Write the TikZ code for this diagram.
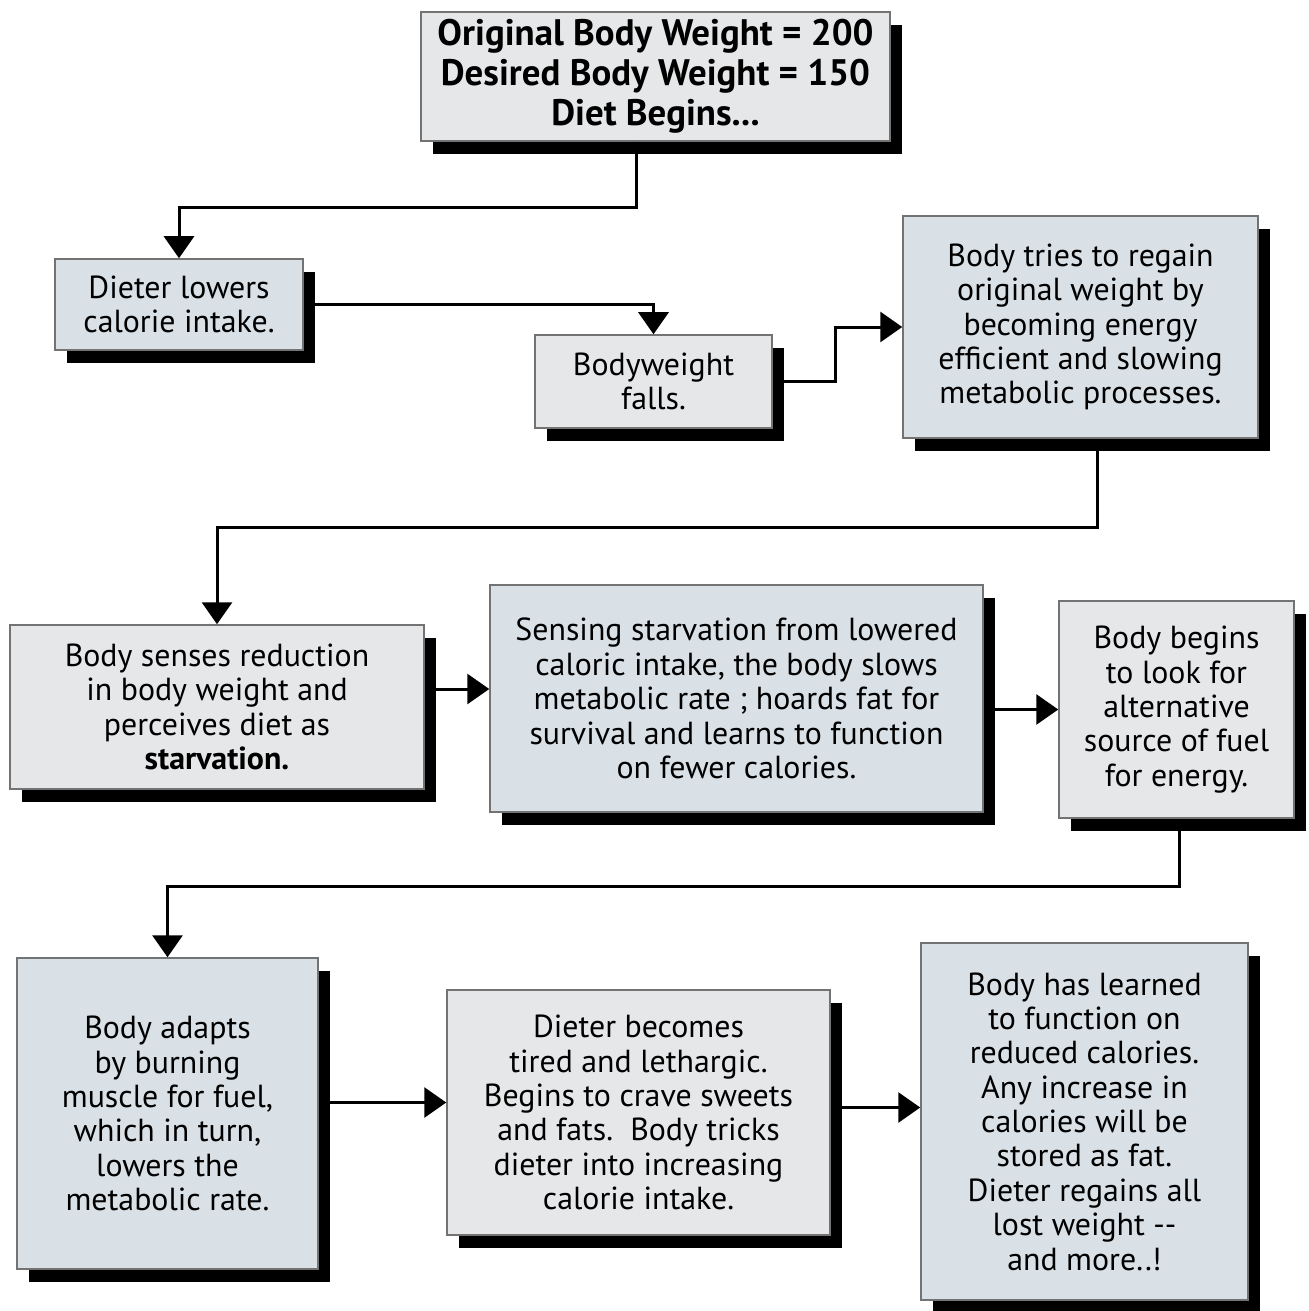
\documentclass[tikz,border=0pt]{standalone}
\usepackage{fontspec}
\setmainfont{PT Sans}
\usepackage{tikz}
\usetikzlibrary{arrows.meta,calc,shadows}
\definecolor{boxgray}{HTML}{E6E7E8}
\definecolor{boxblue}{HTML}{D9E1E7}

\begin{document}
\begin{tikzpicture}[x=1bp,y=-1bp,
  box/.style={draw=black!55,line width=1.5bp,align=center,inner sep=0pt,
    font=\fontsize{32}{34.5}\selectfont,
    drop shadow={shadow xshift=12bp,shadow yshift=-13bp,fill=black,opacity=1}},
  flow/.style={line width=3bp,-{Triangle[width=30bp,length=22bp]}}]
\useasboundingbox (0,0) rectangle (1309,1311);

\node[box,fill=boxgray,minimum width=469bp,minimum height=129bp,
  font=\fontsize{37}{40}\selectfont\bfseries] (start) at (655.5,76.5)
  {Original Body Weight = 200\\Desired Body Weight = 150\\Diet Begins...};
\node[box,fill=boxblue,minimum width=248bp,minimum height=91bp] (lower) at (179,304.5)
  {Dieter lowers\\calorie intake.};
\node[box,fill=boxgray,minimum width=237bp,minimum height=93bp] (falls) at (653.5,381.5)
  {Bodyweight\\falls.};
\node[box,fill=boxblue,minimum width=355bp,minimum height=222bp] (regain) at (1080.5,327)
  {Body tries to regain\\original weight by\\becoming energy\\efficient and slowing\\metabolic processes.};
\node[box,fill=boxgray,minimum width=414bp,minimum height=164bp] (senses) at (217,707)
  {Body senses reduction\\in body weight and\\perceives diet as\\\textbf{starvation.}};
\node[box,fill=boxblue,minimum width=493bp,minimum height=227bp] (hoard) at (736.5,698.5)
  {Sensing starvation from lowered\\caloric intake, the body slows\\metabolic rate ; hoards fat for\\survival and learns to function\\on fewer calories.};
\node[box,fill=boxgray,minimum width=235bp,minimum height=217bp] (fuel) at (1176.5,709.5)
  {Body begins\\to look for\\alternative\\source of fuel\\for energy.};
\node[box,fill=boxblue,minimum width=301bp,minimum height=311bp] (muscle) at (167.5,1113.5)
  {Body adapts\\by burning\\muscle for fuel,\\which in turn,\\lowers the\\metabolic rate.};
\node[box,fill=boxgray,minimum width=383bp,minimum height=245bp] (crave) at (638.5,1112.5)
  {Dieter becomes\\tired and lethargic.\\Begins to crave sweets\\and fats.\ \ Body tricks\\dieter into increasing\\calorie intake.};
\node[box,fill=boxblue,minimum width=327bp,minimum height=357bp] (regained) at (1084.5,1121.5)
  {Body has learned\\to function on\\reduced calories.\\Any increase in\\calories will be\\stored as fat.\\Dieter regains all\\lost weight {-}{-}\\and more..!};

\coordinate (s1) at ($(senses.east)+(0,-18)$);
\coordinate (s2) at ($(muscle.east)+(0,-11)$);
\coordinate (s3) at ($(crave.east)+(0,-5)$);

\draw[flow] ($(start.south)+(-19.5,0)$) -- ++(0,66) -| (lower.north);
\draw[flow] (lower.east) -| (falls.north);
\draw[flow] (falls.east) -- ++(63,0) |- (regain.west);
\draw[flow] ($(regain.south)+(16.5,0)$) -- ++(0,89) -| (senses.north);
\draw[flow] (s1) -- (s1 -| hoard.west);
\draw[flow] (hoard.east |- fuel.west) -- (fuel.west);
\draw[flow] ($(fuel.south)+(2.5,0)$) -- ++(0,68) -| (muscle.north);
\draw[flow] (s2) -- (s2 -| crave.west);
\draw[flow] (s3) -- (s3 -| regained.west);
\end{tikzpicture}
\end{document}
